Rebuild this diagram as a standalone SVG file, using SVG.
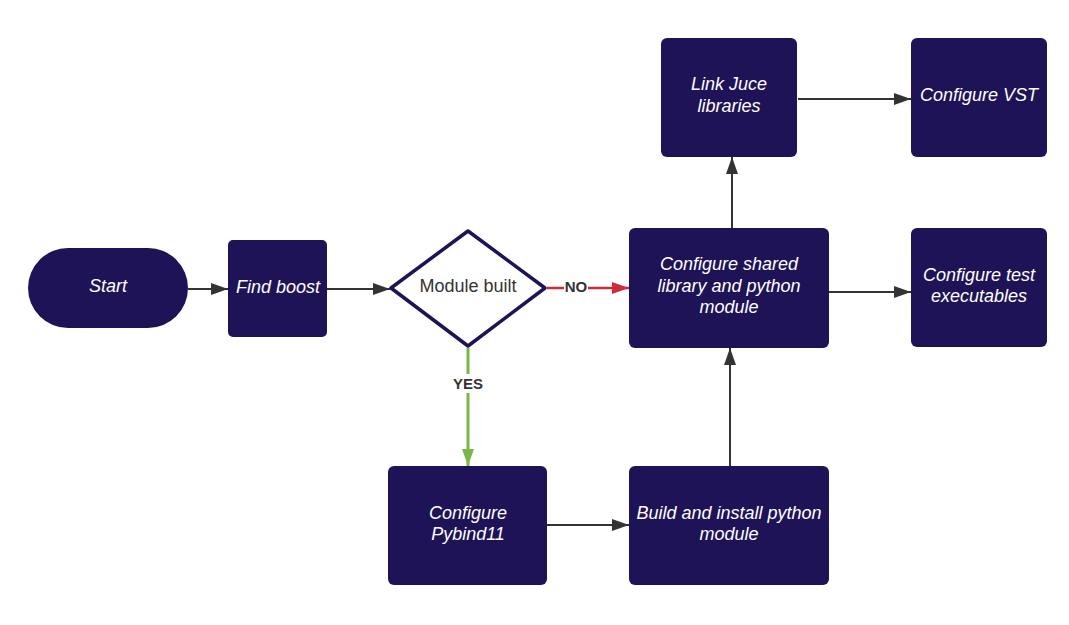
<svg xmlns="http://www.w3.org/2000/svg" width="1069" height="625" viewBox="0 0 1069 625">
<defs>
<style>
.box{fill:#1e1356;}
.t{font-family:"Liberation Sans",Arial,sans-serif;font-size:18px;font-style:italic;fill:#ffffff;text-anchor:middle;}
.c{stroke:#333333;stroke-width:2;fill:none;}
.lbl{font-family:"Liberation Sans",Arial,sans-serif;font-size:15px;font-weight:bold;fill:#333333;text-anchor:middle;}
</style>
<marker id="ah" markerWidth="17" markerHeight="12" refX="17" refY="6" orient="auto" markerUnits="userSpaceOnUse">
<path d="M0,0 L17,6 L0,12 Z" fill="#333333"/>
</marker>
<marker id="ahr" markerWidth="17" markerHeight="12" refX="17" refY="6" orient="auto" markerUnits="userSpaceOnUse">
<path d="M0,0 L17,6 L0,12 Z" fill="#c92d39"/>
</marker>
<marker id="ahg" markerWidth="17" markerHeight="12" refX="17" refY="6" orient="auto" markerUnits="userSpaceOnUse">
<path d="M0,0 L17,6 L0,12 Z" fill="#7ab648"/>
</marker>
</defs>
<rect width="1069" height="625" fill="#ffffff"/>
<g id="connectors">
<line class="c" x1="188" y1="289" x2="228" y2="289" marker-end="url(#ah)"/>
<line class="c" x1="327" y1="289" x2="390" y2="289" marker-end="url(#ah)"/>
<line x1="547" y1="288" x2="629" y2="288" stroke="#c92d39" stroke-width="2.5" marker-end="url(#ahr)"/>
<rect x="564" y="279" width="24" height="17" fill="#ffffff"/>
<text class="lbl" x="576" y="292">NO</text>
<line x1="468" y1="348" x2="468" y2="466" stroke="#7ab648" stroke-width="3" marker-end="url(#ahg)"/>
<rect x="448" y="374" width="40" height="19" fill="#ffffff"/>
<text class="lbl" x="468" y="389">YES</text>
<line class="c" x1="547" y1="525" x2="629" y2="525" marker-end="url(#ah)"/>
<line class="c" x1="730" y1="466" x2="730" y2="348" marker-end="url(#ah)"/>
<line class="c" x1="732" y1="228" x2="732" y2="157" marker-end="url(#ah)"/>
<line class="c" x1="798" y1="99" x2="911" y2="99" marker-end="url(#ah)"/>
<line class="c" x1="829" y1="292" x2="911" y2="292" marker-end="url(#ah)"/>
</g>
<g id="start">
<rect class="box" x="28" y="248" width="160" height="80" rx="40"/>
<text class="t" x="108" y="292">Start</text>
</g>
<g id="find-boost">
<rect class="box" x="228" y="240" width="99" height="97" rx="5"/>
<text class="t" x="278" y="293">Find boost</text>
</g>
<g id="module-built">
<path d="M468,231 L545,288 L468,346 L391,288 Z" fill="#ffffff" stroke="#1e1356" stroke-width="3.5" stroke-linejoin="round"/>
<text x="468" y="292" font-family="Liberation Sans,Arial,sans-serif" font-size="18" fill="#333333" text-anchor="middle">Module built</text>
</g>
<g id="configure-shared">
<rect class="box" x="629" y="228" width="200" height="120" rx="6"/>
<text class="t" x="729" y="270">Configure shared</text>
<text class="t" x="729" y="292">library and python</text>
<text class="t" x="729" y="313">module</text>
</g>
<g id="link-juce">
<rect class="box" x="661" y="38" width="136" height="119" rx="6"/>
<text class="t" x="729" y="90">Link Juce</text>
<text class="t" x="729" y="112">libraries</text>
</g>
<g id="configure-vst">
<rect class="box" x="911" y="38" width="136" height="119" rx="6"/>
<text class="t" x="979" y="101">Configure VST</text>
</g>
<g id="configure-test">
<rect class="box" x="911" y="228" width="136" height="119" rx="6"/>
<text class="t" x="979" y="281">Configure test</text>
<text class="t" x="979" y="302">executables</text>
</g>
<g id="configure-pybind11">
<rect class="box" x="388" y="466" width="159" height="119" rx="6"/>
<text class="t" x="468" y="519">Configure</text>
<text class="t" x="468" y="540">Pybind11</text>
</g>
<g id="build-install">
<rect class="box" x="629" y="466" width="200" height="119" rx="6"/>
<text class="t" x="729" y="519">Build and install python</text>
<text class="t" x="729" y="540">module</text>
</g>
</svg>
